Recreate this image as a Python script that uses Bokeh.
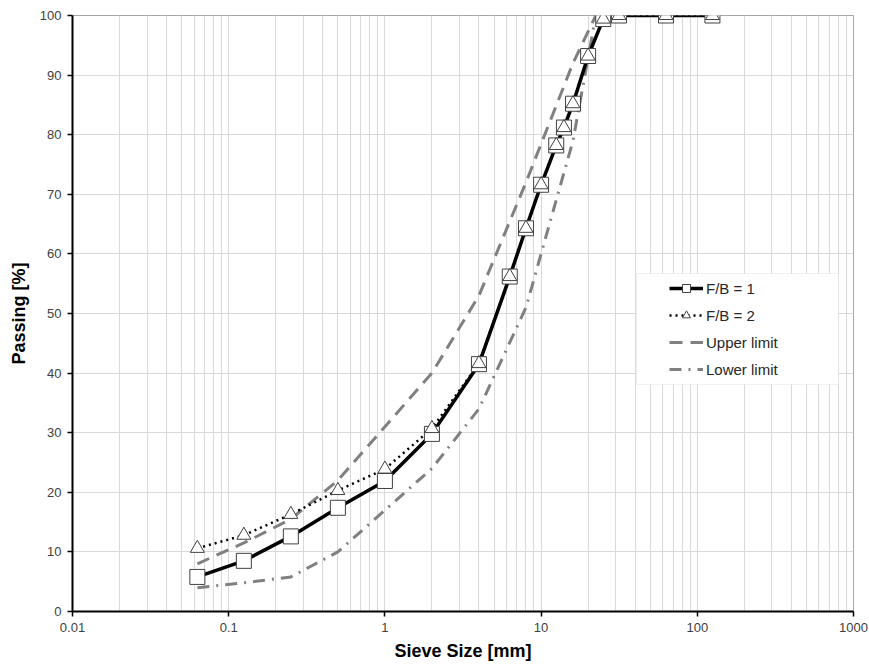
from bokeh.plotting import figure
from bokeh.models import FixedTicker, Legend, LegendItem, BoxAnnotation
from bokeh.embed import file_html
from bokeh.resources import INLINE

# Sieve sizes [mm]
sieve = [0.063, 0.125, 0.25, 0.5, 1, 2, 4, 6.3, 8, 10, 12.5, 14, 16, 20, 25, 31.5, 63, 125]
fb1 = [5.8, 8.5, 12.6, 17.4, 21.9, 29.8, 41.5, 56.2, 64.3, 71.6, 78.2, 81.2, 85.2, 93.2, 99.4, 100, 100, 100]
fb2 = [10.6, 12.8, 16.3, 20.3, 23.9, 30.7, 41.6, 56.2, 64.3, 71.6, 78.2, 81.2, 85.2, 93.2, 99.4, 100, 100, 100]

limit_sieve = [0.063, 0.125, 0.25, 0.5, 1, 2, 4, 8, 16, 22.4]
upper = [8, 11.5, 15.5, 22, 31, 40, 53, 72, 92, 100]
lower = [4, 4.8, 5.8, 10, 17, 24, 34, 51, 79, 100]

x_ticks = [0.01, 0.1, 1, 10, 100, 1000]
x_labels = ["0.01", "0.1", "1", "10", "100", "1000"]
y_ticks = list(range(0, 101, 10))

minor = [m * t for t in x_ticks[:-1] for m in range(2, 10)]

p = figure(width=869, height=666, x_axis_type="log", x_range=(0.01, 1000), y_range=(0, 100),
           output_backend="svg", toolbar_location=None,
           min_border_left=72, min_border_right=16, min_border_top=15, min_border_bottom=55)
p.background_fill_color = "white"
p.outline_line_color = "#a6a6a6"
p.outline_line_width = 1

p.xaxis.ticker = FixedTicker(ticks=x_ticks, minor_ticks=minor)
p.xaxis.major_label_overrides = {t: l for t, l in zip(x_ticks, x_labels)}
p.yaxis.ticker = FixedTicker(ticks=y_ticks)

for ax in (p.xaxis[0], p.yaxis[0]):
    ax.axis_line_color = "black"
    ax.axis_line_width = 2
    ax.major_tick_line_color = "black"
    ax.major_tick_line_width = 1.5
    ax.major_tick_in = 0
    ax.major_tick_out = 5
    ax.minor_tick_line_color = None
    ax.major_label_text_font = "Liberation Sans"
    ax.major_label_text_font_size = "13px"
    ax.major_label_text_color = "#404040"
    ax.axis_label_text_font = "Liberation Sans"
    ax.axis_label_text_font_size = "18px"
    ax.axis_label_text_font_style = "bold"
    ax.axis_label_text_color = "black"

p.xaxis.axis_label = "Sieve Size [mm]"
p.yaxis.axis_label = "Passing [%]"
p.xaxis.major_label_standoff = 6
p.xaxis.axis_label_standoff = 6
p.yaxis.major_label_standoff = 6
p.yaxis.axis_label_standoff = 8

p.xgrid.grid_line_color = "#d9d9d9"
p.xgrid.minor_grid_line_color = "#d9d9d9"
p.ygrid.grid_line_color = "#d9d9d9"
p.xgrid.grid_line_width = 1
p.ygrid.grid_line_width = 1

r_up = p.line(limit_sieve, upper, line_color="#808080", line_width=3, line_dash="13 8")
r_lo = p.line(limit_sieve, lower, line_color="#808080", line_width=3, line_dash="12 7 2 7")
r_l2 = p.line(sieve, fb2, line_color="black", line_width=2.5, line_dash="2 4")
r_l1 = p.line(sieve, fb1, line_color="black", line_width=3.5)
r_s1 = p.scatter(sieve, fb1, marker="square", size=15, fill_color="white",
                 line_color="#404040", line_width=1)
r_s2 = p.scatter(sieve, fb2, marker="triangle", size=14, fill_color="white",
                 line_color="#404040", line_width=1)

# legend frame
box = BoxAnnotation(left=636, right=838, top=273, bottom=384,
                    left_units="canvas", right_units="canvas",
                    top_units="canvas", bottom_units="canvas",
                    fill_color="white", fill_alpha=1,
                    line_color="#cccccc", line_width=1, level="overlay")
p.add_layout(box)

legend = Legend(items=[
    LegendItem(label="F/B = 1", renderers=[r_l1, r_s1]),
    LegendItem(label="F/B = 2", renderers=[r_l2, r_s2]),
    LegendItem(label="Upper limit", renderers=[r_up]),
    LegendItem(label="Lower limit", renderers=[r_lo]),
], location=(597, 232))
legend.label_text_font = "Liberation Sans"
legend.label_text_font_size = "15px"
legend.label_text_color = "#262626"
legend.glyph_width = 34
legend.glyph_height = 20
legend.label_height = 20
legend.label_standoff = 3
legend.spacing = 7
legend.padding = 6
legend.margin = 0
legend.border_line_color = None
legend.background_fill_alpha = 0
p.add_layout(legend, "center")

open("out.html", "w").write(file_html(p, INLINE))
